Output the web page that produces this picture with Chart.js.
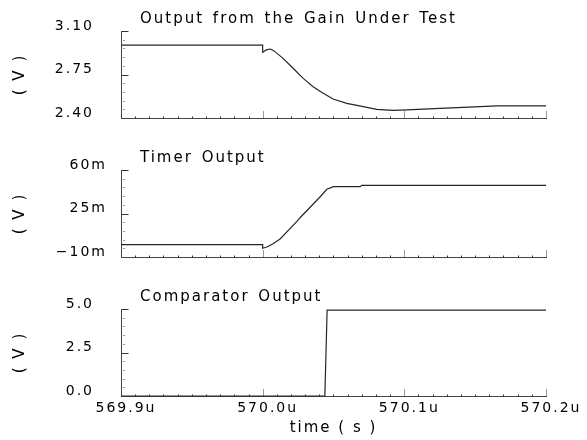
<!DOCTYPE html>
<html>
<head>
<meta charset="utf-8">
<script src="https://cdn.jsdelivr.net/npm/chart.js@4.4.1/dist/chart.umd.min.js"></script>
<style>
  body { margin: 0; background: #fff; }
  #wrap { position: relative; width: 587px; height: 440px; }
  canvas { position: absolute; left: 0; }
</style>
</head>
<body>
<div id="wrap">
  <canvas id="gain" width="587" height="140" style="top:0"></canvas>
  <canvas id="timer" width="587" height="140" style="top:140px"></canvas>
  <canvas id="comp" width="587" height="160" style="top:280px"></canvas>
</div>
<script>
// shared time axis (microseconds)
const xTicks = [569.9, 570.0, 570.1, 570.2];
const xLabels = ["569.9u", "570.0u", "570.1u", "570.2u"];

// Output from the Gain Under Test (V)
const gainTime = [569.9, 570.0, 570.0, 570.003, 570.0055, 570.008, 570.0144, 570.0215, 570.0286, 570.0356,
  570.0427, 570.0498, 570.0593, 570.0675, 570.0805, 570.0922, 570.1017, 570.1252, 570.1417, 570.1653, 570.2];
const gainVolts = [2.987, 2.987, 2.929, 2.950, 2.955, 2.940, 2.880, 2.800, 2.719, 2.652,
  2.599, 2.553, 2.518, 2.499, 2.470, 2.462, 2.465, 2.478, 2.486, 2.497, 2.497];
const gainTicks = [2.40, 2.75, 3.10];
const gainTickLabels = ["2.40", "2.75", "3.10"];

// Timer Output (mV)
const timerTime = [569.9, 570.0, 570.0, 570.003, 570.007, 570.0123, 570.024, 570.0264, 570.0406,
  570.0453, 570.05, 570.0688, 570.07, 570.2];
const timerMilli = [0, 0, -3.0, -2.0, 0.5, 4.5, 18.5, 21.6, 38.5, 44.5, 46.6, 46.6, 47.7, 47.7];
const timerTicks = [-10, 25, 60];
const timerTickLabels = ["−10m", "25m", "60m"];

// Comparator Output (V)
const compTime = [569.9, 570.0439, 570.0455, 570.2];
const compVolts = [0, 0, 4.94, 4.94];
const compTicks = [0, 2.5, 5];
const compTickLabels = ["0.0", "2.5", "5.0"];

Chart.defaults.font.family = "'DejaVu Sans', sans-serif";
Chart.defaults.font.size = 14;
Chart.defaults.color = "#000";

// wide letter spacing like the old X11 plot font
const spacing = {
  id: "spacing",
  beforeDraw(chart) {
    chart.ctx.letterSpacing = "2px";
  }
};

// small inward ticks on the dotted axes
const axisMarks = {
  id: "axisMarks",
  afterDraw(chart) {
    const { ctx, chartArea: a, scales: { x, y } } = chart;
    ctx.save();
    ctx.strokeStyle = "#333";
    ctx.lineWidth = 1;
    const yb = Math.round(a.bottom) + 0.5;
    for (let i = 1; i <= 30; i++) {
      const px = Math.round(x.getPixelForValue(569.9 + i * 0.01)) + 0.5;
      const major = i % 10 === 0;
      ctx.setLineDash(major ? [1, 1] : []);
      ctx.beginPath();
      ctx.moveTo(px, yb);
      ctx.lineTo(px, yb - (major ? 7 : 2));
      ctx.stroke();
    }
    const xl = Math.round(a.left) + 0.5;
    const step = (y.max - y.min) / 10;
    ctx.setLineDash([]);
    for (let i = 1; i <= 10; i++) {
      const py = Math.round(y.getPixelForValue(y.min + i * step)) + 0.5;
      const major = i === 5 || i === 10;
      ctx.beginPath();
      ctx.moveTo(major ? xl : xl + 2, py);
      ctx.lineTo(xl + (major ? 7 : 3), py);
      ctx.stroke();
    }
    ctx.restore();
  }
};

const panelTitle = {
  id: "panelTitle",
  afterDraw(chart, args, opts) {
    const { ctx, chartArea: a } = chart;
    ctx.save();
    ctx.font = "15px 'DejaVu Sans'";
    ctx.fillStyle = "#000";
    ctx.textBaseline = "middle";
    ctx.letterSpacing = "2px";
    ctx.wordSpacing = "2px";
    ctx.fillText(opts.text, a.left + 19, a.top - 12);
    ctx.restore();
  }
};

function makePanel(id, cfg) {
  return new Chart(document.getElementById(id), {
    type: "line",
    data: {
      datasets: [{
        data: cfg.time.map((t, i) => ({ x: t, y: cfg.values[i] })),
        borderColor: "#262626",
        borderWidth: 1.2,
        pointRadius: 0,
        tension: 0,
        clip: false
      }]
    },
    options: {
      responsive: false,
      animation: false,
      events: [],
      layout: { padding: { left: 0, right: 41, top: cfg.top, bottom: cfg.bottom } },
      plugins: {
        legend: { display: false },
        tooltip: { enabled: false },
        panelTitle: { text: cfg.title }
      },
      scales: {
        x: {
          type: "linear",
          min: 569.9,
          max: 570.2,
          afterBuildTicks: s => { s.ticks = xTicks.map(v => ({ value: v })); },
          afterFit: s => {
            s.height = cfg.showX ? 44 : 0;
            s.paddingLeft = 0;
            s.paddingRight = 0;
          },
          grid: { display: false, drawTicks: false },
          border: { color: "#444", width: 1, dash: [1, 2] },
          ticks: {
            display: cfg.showX,
            autoSkip: false,
            maxRotation: 0,
            padding: 4,
            labelOffset: 5,
            callback: (v, i) => xLabels[i]
          },
          title: {
            display: cfg.showX,
            text: "time ( s )",
            font: { size: 15 },
            padding: { top: 0, bottom: 3 }
          }
        },
        y: {
          type: "linear",
          min: cfg.ticks[0],
          max: cfg.ticks[2],
          afterBuildTicks: s => { s.ticks = cfg.ticks.map(v => ({ value: v })); },
          afterFit: s => {
            s.width = 121;
            s.paddingTop = 0;
            s.paddingBottom = 0;
          },
          grid: { display: false, drawTicks: false },
          border: { color: "#444", width: 1, dash: [1, 2] },
          ticks: {
            padding: cfg.labelPad,
            labelOffset: -5,
            callback: (v, i) => cfg.labels[i]
          },
          title: {
            display: true,
            text: "( V )",
            font: { size: 15 },
            padding: { top: 11, bottom: 0 }
          }
        }
      }
    },
    plugins: [spacing, axisMarks, panelTitle]
  });
}

makePanel("gain", {
  title: "Output from the Gain Under Test",
  time: gainTime, values: gainVolts,
  ticks: gainTicks, labels: gainTickLabels,
  top: 31, bottom: 22, labelPad: 27, showX: false
});

makePanel("timer", {
  title: "Timer Output",
  time: timerTime, values: timerMilli,
  ticks: timerTicks, labels: timerTickLabels,
  top: 30, bottom: 23, labelPad: 14, showX: false
});

makePanel("comp", {
  title: "Comparator Output",
  time: compTime, values: compVolts,
  ticks: compTicks, labels: compTickLabels,
  top: 29, bottom: 0, labelPad: 27, showX: true
});
</script>
</body>
</html>
